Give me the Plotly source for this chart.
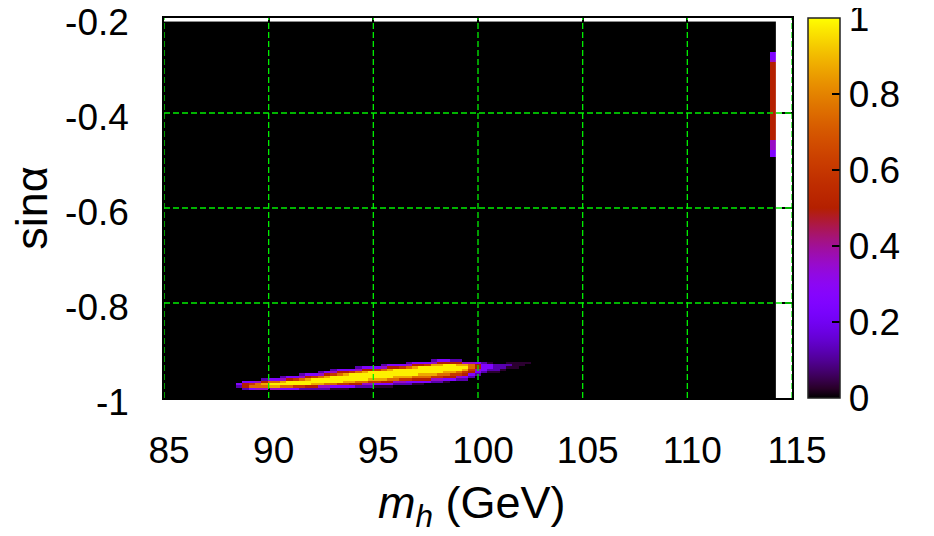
import numpy as np
import plotly.graph_objects as go

# ---------------- data ----------------
# heatmap grid (cell centres)
x_first, x_step, n_x = 85.0, 0.3, 98
y_first, y_step, n_y = -1.0, 0.005, 159

# value level of each digit used below
digit_levels = [0.0, 0.03, 0.12, 0.25, 0.36, 0.5, 0.6, 0.75, 0.87, 0.98]

# main blob: one string per column (x = 88.3, 88.6, ...), rows top -> bottom
# starting at y = -0.915 and going down in steps of 0.005
blob_x_first = 88.3
blob_y_top = -0.915
blob_cols = [
    "00000000000000",
    "00000000000320",
    "00000000003552",
    "00000000003673",
    "00000000004774",
    "00000000025874",
    "00000000037984",
    "00000000037984",
    "00000000248973",
    "00000000359973",
    "00000000369963",
    "00000002479962",
    "00000003589952",
    "00000003699852",
    "00000024799842",
    "00000035899742",
    "00000246999731",
    "00000357999631",
    "00000358998631",
    "00000369998530",
    "00002479997520",
    "00003589997420",
    "00003599986420",
    "00003699986310",
    "00024799985310",
    "00035899975310",
    "00035999874200",
    "00036999864200",
    "00247999863200",
    "00358999753100",
    "00359998753100",
    "00369998753000",
    "02489998642000",
    "03589997642000",
    "03599987531000",
    "02599986530000",
    "02589976420000",
    "00489865320000",
    "00477653200000",
    "00355432000000",
    "00233320000000",
    "00133210000000",
    "00022210000000",
    "00022100000000",
    "00121000000000",
    "00111000000000",
    "00110000000000",
    "00100000000000",
]

# red strip at the right edge, rows top -> bottom from y = -0.275
strip_x = 114.1
strip_y_top = -0.275
strip_col = "33345555555555555555555555555555555554444333"

x_tick_vals = [85, 90, 95, 100, 105, 110, 115]
x_tick_text = ["85", "90", "95", "100", "105", "110", "115"]
y_tick_vals = [-1.0, -0.8, -0.6, -0.4, -0.2]
y_tick_text = ["-1", "-0.8", "-0.6", "-0.4", "-0.2"]
cb_tick_vals = [0, 0.2, 0.4, 0.6, 0.8, 1.0]
cb_tick_text = ["0", "0.2", "0.4", "0.6", "0.8", "1"]
x_grid_vals = [85, 90, 95, 100, 105, 110, 115]
y_grid_vals = [-0.8, -0.6, -0.4]
x_title = "<i>m<sub>h</sub></i> (GeV)"
y_title = "sinα"

# ---------------- build the grid ----------------
xs = np.round(x_first + x_step * np.arange(n_x), 3)
ys = np.round(y_first + y_step * np.arange(n_y), 4)
z = np.zeros((n_y, n_x))


def col_index(xv):
    return int(round((xv - x_first) / x_step))


def row_index(yv):
    return int(round((yv - y_first) / y_step))


for j, col in enumerate(blob_cols):
    assert len(col) == 14
    ci = col_index(blob_x_first + j * x_step)
    for r, ch in enumerate(col):
        ri = row_index(blob_y_top - r * y_step)
        z[ri, ci] = digit_levels[int(ch)]

ci = col_index(strip_x)
for r, ch in enumerate(strip_col):
    ri = row_index(strip_y_top - r * y_step)
    z[ri, ci] = digit_levels[int(ch)]

# gnuplot default pm3d palette (rgbformulae 7,5,15)
stops = np.linspace(0, 1, 41)
colorscale = []
for s in stops:
    r = np.sqrt(s)
    g = s ** 3
    b = max(0.0, np.sin(2 * np.pi * s))
    colorscale.append([float(s), "rgb(%d,%d,%d)" % (round(255 * r), round(255 * g), round(255 * b))])

FONT = "Liberation Sans, Arial, sans-serif"
TICK_SIZE = 37
TITLE_SIZE = 45
PLOT_W = 628.0
CB_LEFT = 1.0255          # colorbar left edge (paper units)
CB_TICK = 8 / PLOT_W      # tick length on the colorbar (paper units)
GRID = dict(color="#00f000", width=1.3, dash="6px,3px")

fig = go.Figure()
fig.add_trace(go.Heatmap(
    x=xs, y=ys, z=z, zmin=0, zmax=1, zsmooth=False,
    colorscale=colorscale,
    colorbar=dict(
        x=CB_LEFT, xanchor="left", xpad=0, ypad=0,
        y=0.5, yanchor="middle", len=1.0, lenmode="fraction",
        thickness=32, outlinewidth=1.5, outlinecolor="#222222",
        tickvals=cb_tick_vals, ticktext=cb_tick_text,
        ticks="inside", ticklen=8, tickcolor="black", tickwidth=1.5,
        ticklabeloverflow="allow",
        tickfont=dict(family=FONT, size=TICK_SIZE, color="black"),
    ),
    hoverinfo="skip",
))

shapes = []
for gx in x_grid_vals:
    shapes.append(dict(type="line", xref="x", yref="paper", x0=gx, x1=gx, y0=0, y1=1,
                       layer="above", line=GRID))
for gy in y_grid_vals:
    shapes.append(dict(type="line", xref="paper", yref="y", x0=0, x1=1, y0=gy, y1=gy,
                       layer="above", line=GRID))
# ticks on the left side of the colour box (gnuplot draws them on both sides)
for v in cb_tick_vals[1:-1]:
    shapes.append(dict(type="line", xref="paper", yref="paper", x0=CB_LEFT, x1=CB_LEFT + CB_TICK,
                       y0=v, y1=v, layer="above", line=dict(color="black", width=1.5)))

annotations = [
    dict(text=y_title, xref="paper", yref="paper", x=-0.212, y=0.5, textangle=-90,
         showarrow=False, xanchor="center", yanchor="middle",
         font=dict(family=FONT, size=TITLE_SIZE, color="black")),
    dict(text=x_title, xref="paper", yref="paper", x=0.49, y=-0.282,
         showarrow=False, xanchor="center", yanchor="middle",
         font=dict(family=FONT, size=TITLE_SIZE, color="black")),
]

fig.update_layout(
    width=918, height=520,
    margin=dict(l=156, r=134, t=10, b=130, autoexpand=False),
    paper_bgcolor="white", plot_bgcolor="white",
    font=dict(family=FONT, size=TICK_SIZE, color="black"),
    shapes=shapes,
    annotations=annotations,
    xaxis=dict(
        range=[85, 115], tickvals=x_tick_vals, ticktext=x_tick_text,
        ticks="inside", ticklen=10, tickcolor="black", tickwidth=1.5,
        showline=True, linecolor="black", linewidth=1.5, mirror="ticks",
        showgrid=False, zeroline=False, ticklabelstandoff=19, ticklabelshift=5,
        ticklabeloverflow="allow",
        tickfont=dict(family=FONT, size=TICK_SIZE),
    ),
    yaxis=dict(
        range=[-1, -0.2], tickvals=y_tick_vals, ticktext=y_tick_text,
        ticks="inside", ticklen=10, tickcolor="black", tickwidth=1.5,
        showline=True, linecolor="black", linewidth=1.5, mirror="ticks",
        showgrid=False, zeroline=False, ticklabelstandoff=26, ticklabelshift=4,
        ticklabeloverflow="allow",
        tickfont=dict(family=FONT, size=TICK_SIZE),
    ),
)

fig.write_html("out.html")
